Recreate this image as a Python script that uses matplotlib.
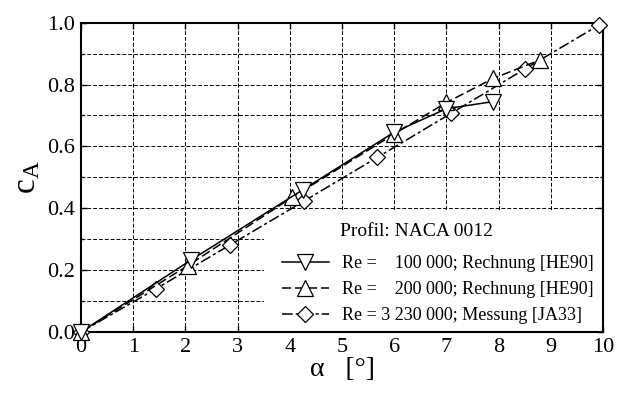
import matplotlib
matplotlib.use("Agg")
import matplotlib.pyplot as plt
from matplotlib.patches import Rectangle
from matplotlib.ticker import MultipleLocator, FormatStrFormatter

# ---- data ----
alpha_re100k = [0.0, 2.1, 4.25, 6.0, 7.0, 7.9]
ca_re100k = [0.0, 0.232, 0.46, 0.646, 0.722, 0.745]

alpha_re200k = [0.0, 2.05, 4.05, 6.0, 7.0, 7.9, 8.8]
ca_re200k = [0.0, 0.215, 0.436, 0.64, 0.742, 0.82, 0.88]

alpha_meas = [0.0, 1.44, 2.85, 4.28, 5.68, 7.09, 8.5, 9.92]
ca_meas = [0.0, 0.14, 0.281, 0.424, 0.565, 0.707, 0.85, 0.992]

labels = ["Re =    100 000; Rechnung [HE90]",
          "Re =    200 000; Rechnung [HE90]",
          "Re = 3 230 000; Messung [JA33]"]
legend_title = "Profil: NACA 0012"

plt.rcParams["font.family"] = "serif"
plt.rcParams["font.serif"] = ["Liberation Serif", "DejaVu Serif"]
plt.rcParams["mathtext.fontset"] = "custom"
plt.rcParams["mathtext.rm"] = "Liberation Sans"

fig = plt.figure(figsize=(6.29, 3.94), dpi=100)
ax = fig.add_axes([81/629, 1-332/394, 522/629, (332-22.7)/394])

mk = dict(markerfacecolor="white", markeredgecolor="black", markeredgewidth=0.9,
          color="black", lw=1.1, clip_on=False)
l3, = ax.plot(alpha_meas, ca_meas, ls=(0, (7, 2, 2, 2)), marker="D", markersize=8.5, zorder=3, **mk)
l2, = ax.plot(alpha_re200k, ca_re200k, ls=(0, (6, 2.5)), marker="^", markersize=11, zorder=4, **mk)
l1, = ax.plot(alpha_re100k, ca_re100k, ls="-", marker="v", markersize=11, zorder=5, **mk)

ax.set_xlim(0, 10)
ax.set_ylim(0, 1.0)
ax.xaxis.set_major_locator(MultipleLocator(1))
ax.yaxis.set_major_locator(MultipleLocator(0.2))
ax.yaxis.set_minor_locator(MultipleLocator(0.1))
ax.yaxis.set_major_formatter(FormatStrFormatter("%.1f"))

ax.set_axisbelow(True)
ax.grid(True, which="major", axis="x", color="black", ls=(0, (4, 2)), lw=0.7)
ax.grid(True, which="both", axis="y", color="black", ls=(0, (4, 2)), lw=0.7)

ax.tick_params(which="both", direction="in", top=True, right=True, labelsize=16)
ax.tick_params(axis="x", pad=4)
ax.tick_params(axis="y", pad=4)
ax.tick_params(which="major", length=4, width=1)
ax.tick_params(which="minor", length=2, width=1)
for s in ax.spines.values():
    s.set_linewidth(1.5)

# white box behind legend
ax.add_patch(Rectangle((3.5, 0.0), 6.5, 0.39, facecolor="white", edgecolor="none", zorder=1))

ax.text(4.96, 0.325, legend_title, fontsize=14, va="center", ha="left", zorder=6)
leg = ax.legend([l1, l2, l3], labels, loc="upper left", bbox_to_anchor=(0.385, 0.248),
                frameon=False, fontsize=13, handlelength=2.6, handletextpad=0.75,
                borderpad=0, borderaxespad=0, labelspacing=0.5)
leg.set_zorder(6)

ax.set_xlabel("α   [°]", fontsize=20, labelpad=0)
ax.set_ylabel("$\\mathregular{c_A}$", fontsize=24, labelpad=4)

fig.savefig("out.png", dpi=100)
